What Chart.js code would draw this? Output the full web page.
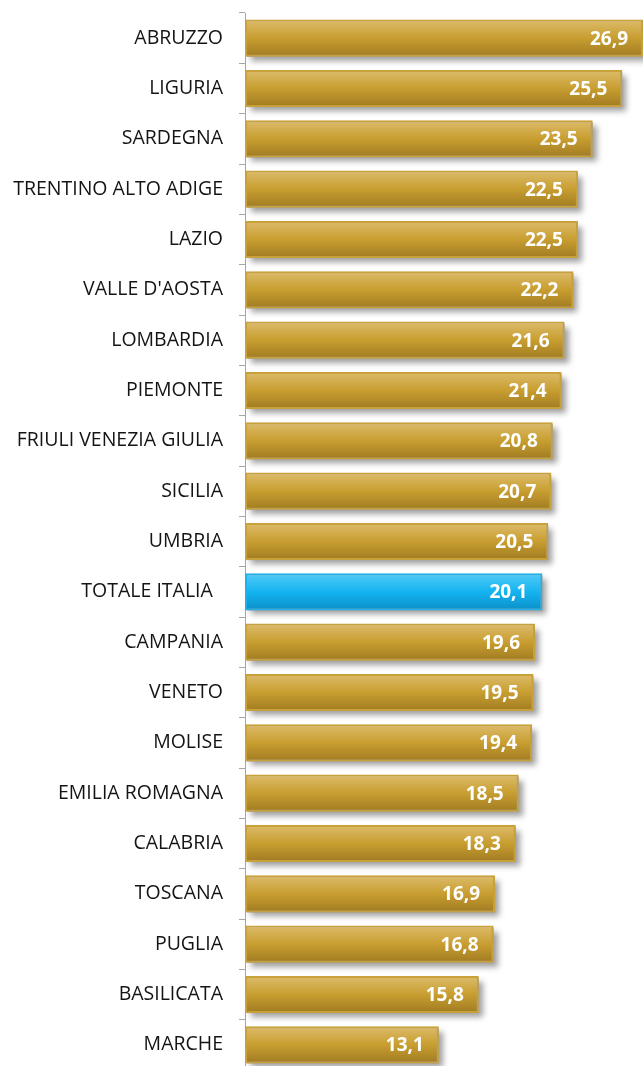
<!DOCTYPE html>
<html>
<head>
<meta charset="utf-8">
<script src="https://cdn.jsdelivr.net/npm/chart.js@4.4.1/dist/chart.umd.min.js"></script>
<style>
  html, body { margin: 0; padding: 0; background: #ffffff; overflow: hidden; }
  #wrap { position: relative; width: 643px; height: 1070px; }
</style>
</head>
<body>
<div id="wrap"><canvas id="c"></canvas></div>
<script>
const categories = ["ABRUZZO","LIGURIA","SARDEGNA","TRENTINO ALTO ADIGE","LAZIO","VALLE D'AOSTA","LOMBARDIA","PIEMONTE","FRIULI VENEZIA GIULIA","SICILIA","UMBRIA","TOTALE ITALIA  ","CAMPANIA","VENETO","MOLISE","EMILIA ROMAGNA","CALABRIA","TOSCANA","PUGLIA","BASILICATA","MARCHE"];
const values = [26.9,25.5,23.5,22.5,22.5,22.2,21.6,21.4,20.8,20.7,20.5,20.1,19.6,19.5,19.4,18.5,18.3,16.9,16.8,15.8,13.1];
const highlightIndex = 11;

const gold = { top: '#ddbc6c', mid: '#c89e30', bot: '#a07a22', border: '#c9a13a' };
const blue = { top: '#55cbf7', mid: '#14b4f0', bot: '#0a8fc8', border: '#22b0e8' };
const BAR_PCT = 0.74;

function barGradient(c) {
  const chart = c.chart;
  const pal = c.dataIndex === highlightIndex ? blue : gold;
  const ys = chart.scales && chart.scales.y;
  if (!ys || !chart.chartArea) return pal.mid;
  const center = ys.getPixelForValue(c.dataIndex);
  const h = (ys.bottom - ys.top) / categories.length * BAR_PCT;
  const top = center - h / 2;
  const g = chart.ctx.createLinearGradient(0, top, 0, top + h);
  g.addColorStop(0, pal.top);
  g.addColorStop(0.5, pal.mid);
  g.addColorStop(1, pal.bot);
  return g;
}

const decoPlugin = {
  id: 'deco',
  beforeDatasetsDraw(chart) {
    const ctx = chart.ctx;
    const meta = chart.getDatasetMeta(0);
    meta.data.forEach((el) => {
      const h = el.height;
      const top = el.y - h / 2;
      const left = el.base;
      const w = el.x - el.base;
      ctx.save();
      ctx.shadowColor = 'rgba(0,0,0,0.38)';
      ctx.shadowBlur = 6;
      ctx.shadowOffsetX = 4;
      ctx.shadowOffsetY = 4;
      ctx.fillStyle = 'rgba(160,160,160,1)';
      ctx.fillRect(left + 2, top + 2, w - 2, h - 2);
      ctx.restore();
    });
  },
  afterDatasetsDraw(chart) {
    const ctx = chart.ctx;
    const meta = chart.getDatasetMeta(0);
    ctx.save();
    ctx.font = 'bold 19px "Open Sans", sans-serif';
    ctx.fillStyle = '#ffffff';
    ctx.textAlign = 'right';
    ctx.textBaseline = 'middle';
    meta.data.forEach((el, i) => {
      ctx.fillText(values[i].toFixed(1).replace('.', ','), el.x - 15, el.y + 1);
    });
    ctx.restore();
  }
};

new Chart(document.getElementById('c'), {
  type: 'bar',
  data: {
    labels: categories,
    datasets: [{
      data: values,
      backgroundColor: barGradient,
      borderColor: (c) => c.dataIndex === highlightIndex ? blue.border : gold.border,
      borderWidth: 2,
      borderSkipped: false,
      barPercentage: BAR_PCT,
      categoryPercentage: 1.0
    }]
  },
  options: {
    indexAxis: 'y',
    responsive: true,
    maintainAspectRatio: false,
    animation: false,
    events: [],
    layout: { padding: { top: 13, right: 0, bottom: 0, left: 0 } },
    plugins: { legend: { display: false }, tooltip: { enabled: false } },
    scales: {
      x: {
        display: false,
        min: 0,
        max: 26.9
      },
      y: {
        afterFit(s) { s.width = 245; s.paddingTop = 0; s.paddingBottom = 0; },
        grid: { display: true, drawOnChartArea: false, tickLength: 6, color: '#a6a6a6', offset: true },
        border: { display: true, color: '#a6a6a6', width: 1 },
        ticks: {
          color: '#141414',
          padding: 16,
          font: { family: '"Open Sans", sans-serif', size: 19.5 }
        }
      }
    }
  },
  plugins: [decoPlugin]
});
</script>
</body>
</html>
